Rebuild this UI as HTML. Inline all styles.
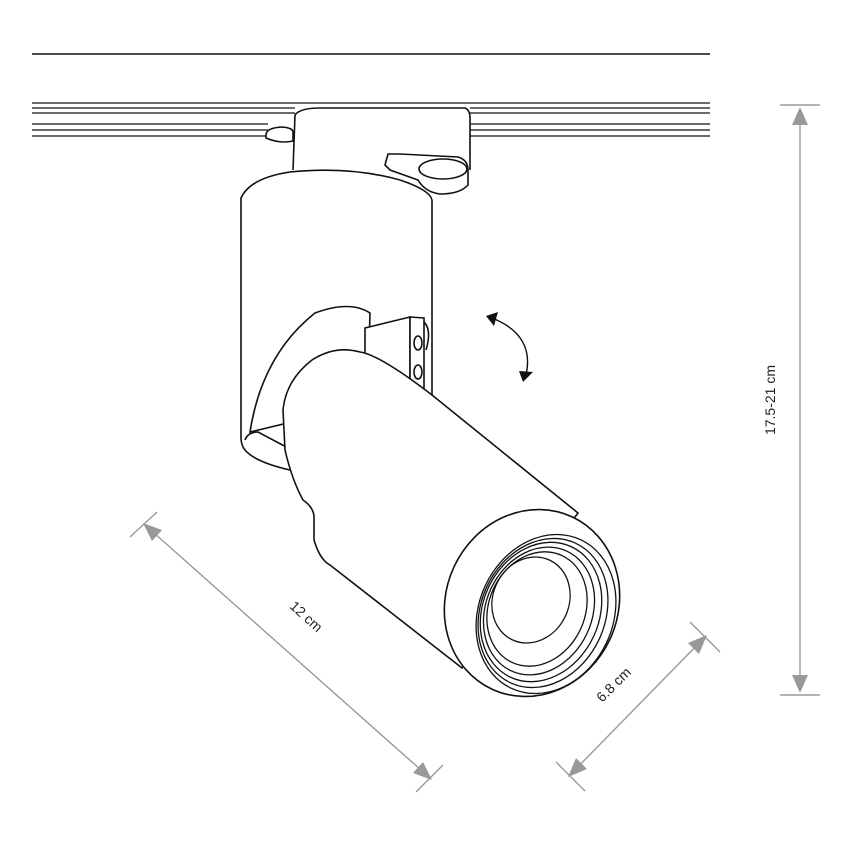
<!DOCTYPE html>
<html><head><style>body{margin:0;background:#fff}svg{display:block}</style></head><body>
<svg width="852" height="852" viewBox="0 0 852 852" xmlns="http://www.w3.org/2000/svg">
<rect width="852" height="852" fill="#fff"/>
<g stroke="#111" stroke-width="1.6" fill="none">
<line x1="32" y1="54" x2="710" y2="54"/>
<g stroke-width="1.3">
<line x1="32" y1="103" x2="710" y2="103"/>
<line x1="32" y1="108" x2="295" y2="108"/><line x1="470" y1="108" x2="710" y2="108"/>
<line x1="32" y1="113" x2="295" y2="113"/><line x1="470" y1="113" x2="710" y2="113"/>
<line x1="32" y1="124" x2="268" y2="124"/><line x1="470" y1="124" x2="710" y2="124"/>
<line x1="32" y1="130" x2="268" y2="130"/><line x1="470" y1="130" x2="710" y2="130"/>
<line x1="32" y1="136" x2="268" y2="136"/><line x1="470" y1="136" x2="710" y2="136"/>
</g>
<path d="M293,170 L295,115 Q300,108 320,108 L465,108 Q470,110 470,118 L470,170" fill="#fff"/>
<path d="M266,135 Q266,128 282,127 Q294,128 293,133 L293,141 Q280,144 266,138 Z" fill="#fff"/>
<path d="M385,165 L388,154 L400,154 L458,157 Q468,160 468,170 L468,185 Q460,194 440,194 Q425,192 418,180 L390,170 Z" fill="#fff"/>
<ellipse cx="443" cy="169" rx="24" ry="10" fill="#fff"/>
<path d="M241,198 Q250,178 290,172 Q350,166 400,180 Q430,190 432,200 L432,395 L290,470 Q255,462 245,450 Q241,445 241,438 Z" fill="#fff"/>
<path d="M250,432 Q262,355 315,313 Q350,300 370,313 L368,380 L300,420 Z" fill="#fff"/>
<path d="M245,440 Q248,432 258,432 L292,450"/>
<path d="M365,328 L410,317 L410,390 L365,370 Z" fill="#fff"/>
<path d="M410,317 L424,318 L424,395 L420,398 L410,390 Z" fill="#fff"/>
<path d="M424,322 Q432,330 426,350"/>
<ellipse cx="418" cy="343" rx="4" ry="7"/>
<ellipse cx="418" cy="372" rx="4" ry="7"/>
<path d="M578,513 L432,395 Q380,355 360,352 Q335,345 312,360 Q286,380 283,410 L285,450 Q292,480 303,500 Q315,508 314,520 L314,540 Q320,560 330,565 L462,668 Z" fill="#fff"/>
<ellipse cx="532" cy="603" rx="86" ry="95" transform="rotate(25 532 603)" fill="#fff"/>
<g stroke-width="1.3">
<ellipse cx="546" cy="614" rx="67" ry="82" transform="rotate(25 546 614)"/>
<ellipse cx="543" cy="613" rx="62" ry="77" transform="rotate(25 543 613)"/>
<ellipse cx="541" cy="612" rx="58" ry="72" transform="rotate(25 541 612)"/>
<ellipse cx="539" cy="611" rx="53" ry="66" transform="rotate(25 539 611)"/>
<ellipse cx="537" cy="609" rx="48" ry="59" transform="rotate(25 537 609)"/>
<ellipse cx="531" cy="600" rx="38" ry="44" transform="rotate(25 531 600)"/>
</g>
<path d="M492,318 Q535,335 526,375" stroke-width="1.4"/>
</g>
<polygon points="486,316 498,312 494,326" fill="#111"/>
<polygon points="519,371 533,372 523,382" fill="#111"/>
<g stroke="#999" stroke-width="1.4" fill="none">
<line x1="800" y1="110" x2="800" y2="690"/>
<line x1="780" y1="105" x2="820" y2="105"/>
<line x1="780" y1="695" x2="820" y2="695"/>
<line x1="145" y1="525" x2="430" y2="778"/>
<line x1="130" y1="537" x2="157" y2="512"/>
<line x1="416" y1="792" x2="443" y2="765"/>
<line x1="570" y1="775" x2="705" y2="637"/>
<line x1="556" y1="762" x2="585" y2="791"/>
<line x1="690" y1="622" x2="720" y2="652"/>
</g>
<g fill="#999">
<polygon points="800,107 792,125 808,125"/>
<polygon points="800,693 792,675 808,675"/>
<polygon points="143,523 162,530 152,541"/>
<polygon points="432,780 413,773 423,762"/>
<polygon points="568,777 576,758 587,769"/>
<polygon points="707,635 699,654 688,643"/>
</g>
<g font-family="Liberation Sans, sans-serif" font-size="14" fill="#222">
<text x="775" y="400" text-anchor="middle" transform="rotate(-90 775 400)">17.5-21 cm</text>
<text x="303" y="620" text-anchor="middle" transform="rotate(42 303 620)">12 cm</text>
<text x="617" y="688" text-anchor="middle" transform="rotate(-45 617 688)">6.8 cm</text>
</g>
</svg>
</body></html>
